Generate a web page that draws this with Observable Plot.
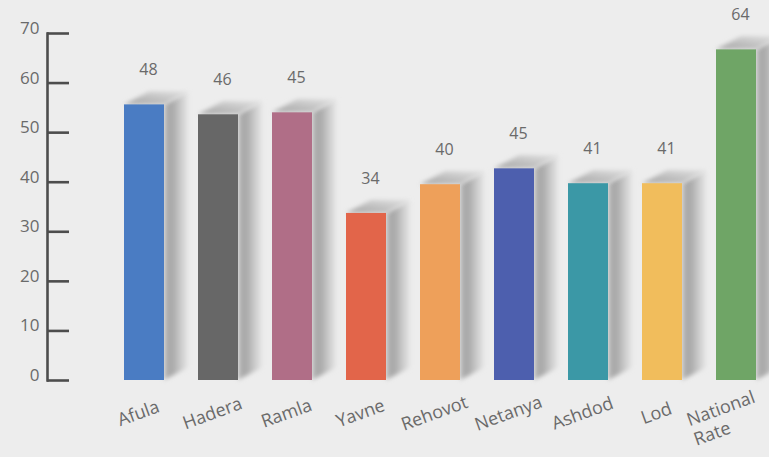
<!DOCTYPE html>
<html>
<head>
<meta charset="utf-8">
<script src="https://cdn.jsdelivr.net/npm/d3@7"></script>
<script src="https://cdn.jsdelivr.net/npm/@observablehq/plot@0.6"></script>
<style>
  html, body { margin: 0; padding: 0; background: #ededed; }
  #chart { width: 769px; height: 457px; overflow: hidden; }
</style>
</head>
<body>
<svg width="0" height="0" style="position:absolute">
  <defs>
    <linearGradient id="sideGrad" x1="0" y1="0" x2="1" y2="0">
      <stop offset="0" stop-color="#b8b8b8"/>
      <stop offset="0.3" stop-color="#a6a6a6"/>
      <stop offset="1" stop-color="#ebebeb"/>
    </linearGradient>
    <linearGradient id="topGrad" x1="0" y1="1" x2="1" y2="0">
      <stop offset="0" stop-color="#a5a5a5"/>
      <stop offset="1" stop-color="#e2e2e2"/>
    </linearGradient>
    <filter id="soft" x="-30%" y="-30%" width="160%" height="160%">
      <feGaussianBlur stdDeviation="2"/>
    </filter>
  </defs>
</svg>
<div id="chart"></div>
<script>
// ---- data ----
const cities = ["Afula", "Hadera", "Ramla", "Yavne", "Rehovot", "Netanya", "Ashdod", "Lod", "National\nRate"];
const printedValues = [48, 46, 45, 34, 40, 45, 41, 41, 64];          // numbers printed above the bars
const drawnHeights = [55.6, 53.6, 54, 33.7, 39.5, 42.7, 39.7, 39.7, 66.7]; // bar heights as drawn on the axis
const barColors = ["#4a7cc3", "#676767", "#b06e87", "#e2654a", "#eea05a", "#4d5fae", "#3b98a6", "#f1bd5c", "#6fa566"];
const yTicks = [0, 10, 20, 30, 40, 50, 60, 70];

const data = cities.map((c, i) => ({city: c, value: printedValues[i], height: drawnHeights[i], color: barColors[i]}));
const singleLine = data.filter(d => !d.city.includes("\n"));
const multiLine = data.filter(d => d.city.includes("\n"));

const DX = 25, DY = 13; // 3D depth offset in pixels
const textColor = "#6a6a6a";
const axisColor = "#4d4d4d";

const faces = Plot.barY(data, {
  x: "city", y: "height",
  render(index, scales, values) {
    const g = d3.create("svg:g");
    const bw = scales.x.bandwidth();
    for (const i of index) {
      const xl = values.x[i], xr = xl + bw;
      const yb = Math.max(values.y1[i], values.y2[i]);
      const yt = Math.min(values.y1[i], values.y2[i]);
      g.append("path")
        .attr("d", `M${xr},${yb}L${xr + DX},${yb - DY}L${xr + DX},${yt - DY}L${xr},${yt}Z`)
        .attr("fill", "url(#sideGrad)").attr("filter", "url(#soft)");
      g.append("path")
        .attr("d", `M${xl},${yt}L${xl + DX},${yt - DY}L${xr + DX},${yt - DY}L${xr},${yt}Z`)
        .attr("fill", "url(#topGrad)").attr("filter", "url(#soft)");
    }
    return g.node();
  }
});

const chart = Plot.plot({
  width: 769,
  height: 457,
  marginLeft: 47,
  marginRight: 13,
  marginTop: 33,
  marginBottom: 77,
  style: {fontFamily: "'Open Sans', sans-serif", background: "#ededed"},
  x: {domain: cities, range: [124, 756], paddingInner: 0.46, paddingOuter: 0, axis: null},
  y: {domain: [0, 70], axis: null},
  marks: [
    faces,
    Plot.barY(data, {x: "city", y: "height", fill: "color"}),
    Plot.text(data, {x: "city", y: "height", text: d => String(d.value), dy: -35, dx: 4, fontSize: 16, fill: textColor}),
    Plot.text(singleLine, {x: "city", frameAnchor: "bottom", text: "city", rotate: -20, dy: 33, dx: -6,
      textAnchor: "middle", lineAnchor: "middle", fontSize: 18, fill: textColor}),
    Plot.text(multiLine, {x: "city", frameAnchor: "bottom", text: "city", rotate: -20, dy: 32, dx: -52,
      textAnchor: "start", lineAnchor: "top", lineHeight: 1.15, fontSize: 18, fill: textColor}),
    Plot.frame({anchor: "left", stroke: axisColor, strokeWidth: 2.6}),
    Plot.gridY(yTicks, {stroke: axisColor, strokeOpacity: 1, strokeWidth: 2.6, insetRight: 687}),
    Plot.axisY(yTicks, {tickSize: 0, tickPadding: 8, dy: -5, fontSize: 17, color: textColor, label: null, tickFormat: d => String(d)})
  ]
});
document.getElementById("chart").appendChild(chart);
</script>
</body>
</html>
